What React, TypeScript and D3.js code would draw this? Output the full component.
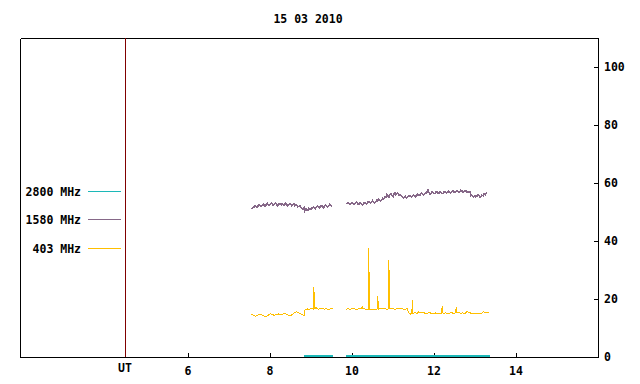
import React from "react";
import * as d3 from "d3";

const title = "15 03 2010";
const xTicks = [6, 8, 10, 12, 14];
const yTicks = [0, 20, 40, 60, 80, 100];
const utHour = 4.46;

const legendLabels = ["2800 MHz", "1580 MHz", "403 MHz"];
const seriesColors = ["#1cb8b8", "#866888", "#ffbf00"];

// 2800 MHz (null = gap)
const h2800: (number | null)[] = [8.84, 9.53, null, 9.85, 13.36];
const v2800: (number | null)[] = [0.4, 0.4, null, 0.4, 0.4];

// 1580 MHz
const h1580: (number | null)[] = [
  7.55, 7.58, 7.6, 7.63, 7.65, 7.68, 7.7, 7.73, 7.75, 7.78, 7.8, 7.83, 7.85, 7.88, 7.9, 7.93, 7.95, 7.98, 8.0, 8.03,
  8.05, 8.08, 8.1, 8.13, 8.15, 8.18, 8.2, 8.23, 8.25, 8.28, 8.3, 8.33, 8.35, 8.38, 8.4, 8.43, 8.45, 8.48, 8.5, 8.53,
  8.55, 8.58, 8.6, 8.63, 8.65, 8.68, 8.7, 8.73, 8.75, 8.78, 8.8, 8.83, 8.85, 8.88, 8.9, 8.92, 8.95, 8.97, 9.0, 9.02,
  9.05, 9.07, 9.1, 9.12, 9.15, 9.17, 9.2, 9.22, 9.25, 9.27, 9.3, 9.32, 9.35, 9.37, 9.4, 9.42, 9.45, 9.47, 9.51, null,
  9.87, 9.9, 9.92, 9.95, 9.97, 10.0, 10.02, 10.05, 10.07, 10.1, 10.12, 10.15, 10.17, 10.2, 10.22, 10.25, 10.27, 10.3,
  10.32, 10.35, 10.37, 10.4, 10.42, 10.45, 10.47, 10.5, 10.52, 10.55, 10.57, 10.6, 10.62, 10.65, 10.67, 10.7, 10.72,
  10.75, 10.77, 10.8, 10.82, 10.85, 10.87, 10.9, 10.92, 10.95, 10.97, 11.0, 11.02, 11.05, 11.07, 11.1, 11.12, 11.15,
  11.17, 11.2, 11.22, 11.25, 11.27, 11.3, 11.32, 11.35, 11.37, 11.4, 11.42, 11.45, 11.47, 11.5, 11.52, 11.55, 11.57,
  11.6, 11.62, 11.65, 11.67, 11.7, 11.72, 11.75, 11.77, 11.8, 11.82, 11.85, 11.88, 11.9, 11.93, 11.95, 11.98, 12.0,
  12.03, 12.05, 12.08, 12.1, 12.13, 12.15, 12.18, 12.2, 12.23, 12.25, 12.28, 12.3, 12.33, 12.35, 12.38, 12.4, 12.43,
  12.45, 12.48, 12.5, 12.53, 12.55, 12.58, 12.6, 12.63, 12.65, 12.68, 12.7, 12.73, 12.75, 12.78, 12.8, 12.83, 12.85,
  12.88, 12.9, 12.92, 12.95, 12.97, 13.0, 13.02, 13.05, 13.07, 13.1, 13.12, 13.15, 13.17, 13.2, 13.22, 13.25, 13.27,
  13.3, 13.32, 13.35,
];
const v1580: (number | null)[] = [
  51.0, 51.5, 51.6, 52.1, 51.9, 51.6, 52.0, 52.6, 52.3, 51.8, 52.1, 52.7, 52.5, 52.0, 52.4, 53.0, 52.7, 52.2, 52.5, 53.1,
  52.9, 52.3, 52.6, 53.0, 52.8, 52.2, 52.4, 52.9, 52.7, 52.3, 52.9, 52.4, 52.5, 53.0, 52.6, 52.1, 52.3, 52.8, 52.7, 52.2,
  52.4, 52.9, 52.1, 52.6, 52.5, 51.8, 51.9, 52.3, 51.7, 51.2, 51.0, 51.5, 50.4, 51.2, 50.7, 50.6, 51.3, 51.1, 50.8, 51.3,
  51.7, 51.6, 51.1, 51.5, 52.0, 51.8, 51.4, 51.7, 52.2, 52.0, 51.5, 51.8, 52.4, 52.2, 51.7, 51.9, 52.6, 52.4, 52.1, null,
  52.7, 53.2, 53.0, 52.5, 52.8, 53.3, 53.1, 52.6, 52.9, 53.4, 53.2, 52.7, 52.8, 53.3, 53.0, 52.5, 52.7, 53.3,
  53.2, 52.8, 53.1, 53.6, 53.4, 53.0, 53.3, 53.9, 53.6, 53.2, 53.4, 54.0, 53.8, 54.5, 54.2, 53.9, 54.0,
  54.8, 54.6, 55.1, 55.0, 56.0, 55.6, 55.2, 55.9, 56.4, 55.7, 55.3, 56.2, 56.6, 55.9, 56.5, 56.3, 55.8,
  56.0, 55.5, 55.4, 54.8, 55.0, 55.4, 54.9, 55.2, 55.3, 55.6, 55.5, 55.1, 55.4, 55.8, 55.7, 55.3, 55.6,
  56.1, 56.0, 55.7, 56.1, 56.5, 56.3, 55.9, 56.2, 56.6, 56.5, 57.6, 56.6, 56.2, 56.4, 56.9, 56.7, 56.3,
  56.5, 57.0, 56.8, 56.4, 56.6, 57.1, 56.7, 56.4, 56.5, 57.0, 56.9, 56.5, 56.7, 57.2, 57.0, 56.6, 56.8,
  57.3, 57.1, 56.7, 56.9, 57.4, 57.2, 56.8, 57.0, 57.5, 57.3, 56.9, 57.0, 57.4, 57.2, 56.9, 57.1,
  56.8, 56.9, 55.6, 55.9, 55.4, 55.2, 55.7, 55.3, 55.5, 55.9, 55.6, 55.2, 55.4, 55.8, 55.6, 56.2,
  56.0, 56.5, 56.8,
];

// 403 MHz
const h403: (number | null)[] = [
  7.55, 7.6, 7.65, 7.7, 7.75, 7.8, 7.85, 7.9, 7.95, 8.0, 8.05, 8.1, 8.15, 8.2, 8.25, 8.3, 8.35, 8.4, 8.45, 8.5,
  8.55, 8.6, 8.65, 8.7, 8.75, 8.8, 8.84, 8.85, 8.9, 8.95, 9.0, 9.05, 9.07, 9.08, 9.12, 9.17, 9.22, 9.27, 9.32,
  9.37, 9.42, 9.47, 9.53, null,
  9.85, 9.88, 9.95, 10.02, 10.1, 10.18, 10.23, 10.25, 10.27, 10.35, 10.4, 10.41, 10.42, 10.48, 10.55, 10.62,
  10.63, 10.64, 10.7, 10.78, 10.85, 10.89, 10.9, 10.91, 10.98, 11.05, 11.12, 11.2, 11.28, 11.35, 11.38, 11.42,
  11.46, 11.47, 11.48, 11.53, 11.58, 11.63, 11.68, 11.73, 11.78, 11.83, 11.88, 11.93, 11.98, 12.03, 12.08, 12.13,
  12.18, 12.2, 12.22, 12.28, 12.33, 12.38, 12.43, 12.48, 12.53, 12.54, 12.55, 12.6, 12.65, 12.7, 12.75, 12.8,
  12.85, 12.9, 12.95, 13.0, 13.05, 13.1, 13.15, 13.2, 13.25, 13.3, 13.35,
];
const v403: (number | null)[] = [
  14.8, 14.3, 14.1, 14.4, 14.8, 14.5, 14.1, 13.9, 14.3, 14.9, 14.7, 14.4, 14.6, 14.9, 14.5, 14.7, 15.1, 14.8, 14.4, 14.3,
  14.7, 15.3, 15.6, 15.2, 14.8, 14.5, 14.2, 16.2, 16.6, 16.4, 16.7, 16.5, 24.2, 16.6, 17.0, 16.5, 16.6, 16.8, 16.5,
  16.7, 16.4, 16.6, 16.6, null,
  16.2, 16.7, 16.5, 16.6, 16.5, 16.6, 16.6, 17.7, 16.6, 16.5, 16.4, 37.7, 16.2, 16.5, 16.4, 16.6,
  21.1, 16.5, 16.6, 16.7, 16.5, 16.6, 33.4, 16.6, 16.7, 16.5, 16.6, 16.6, 16.5, 16.6, 15.2, 14.8,
  15.0, 19.7, 14.9, 15.3, 15.0, 15.6, 15.2, 15.4, 15.1, 15.0, 15.3, 15.1, 14.9, 15.2, 15.0, 15.1,
  15.0, 17.7, 15.1, 15.2, 15.0, 15.1, 15.3, 15.0, 15.2, 17.2, 15.2, 15.3, 15.1, 15.2, 15.0, 15.6,
  15.4, 15.1, 14.9, 15.2, 15.0, 15.1, 15.0, 15.6, 15.3, 15.4, 15.2,
];

const W = 640;
const H = 384;
const plotLeft = 20;
const plotRight = 598;
const plotTop = 38;
const plotBottom = 357;
const FONT = "'DejaVu Sans Mono', monospace";
const FS = 11.5;

export default function App() {
  const x = d3.scaleLinear().domain([1.9, 16]).range([plotLeft, plotRight]);
  const y = d3.scaleLinear().domain([0, 110]).range([plotBottom, plotTop]);

  const mk = (hs: (number | null)[], vs: (number | null)[]) => {
    const pts = hs.map((h, i) => [h, vs[i]] as [number | null, number | null]);
    return d3
      .line<[number | null, number | null]>()
      .defined((d) => d[0] != null && d[1] != null)
      .x((d) => x(d[0] as number))
      .y((d) => y(d[1] as number))(pts) as string;
  };

  const series = [
    { d: mk(h2800, v2800), color: seriesColors[0], w: 2 },
    { d: mk(h1580, v1580), color: seriesColors[1], w: 1.6 },
    { d: mk(h403, v403), color: seriesColors[2], w: 1 },
  ];

  const legendY = [191.5, 219.5, 248.5];

  return (
    <svg
      width={W}
      height={H}
      style={{ position: "fixed", left: 0, top: 0, background: "#fff" }}
      fontFamily={FONT}
      fontWeight="bold"
    >
      <rect x={0} y={0} width={W} height={H} fill="#fff" />
      <text x={308} y={23} textAnchor="middle" fontSize={FS} fill="#000">
        {title}
      </text>

      {/* frame */}
      <g shapeRendering="crispEdges" stroke="#000" strokeWidth={1} fill="none">
        <line x1={plotLeft + 0.5} y1={plotTop + 0.5} x2={plotRight + 0.5} y2={plotTop + 0.5} />
        <line x1={plotLeft + 0.5} y1={plotTop + 0.5} x2={plotLeft + 0.5} y2={plotBottom + 0.5} />
        <line x1={plotRight + 0.5} y1={plotTop + 0.5} x2={plotRight + 0.5} y2={plotBottom + 0.5} />
        <line x1={plotLeft + 0.5} y1={plotBottom + 0.5} x2={plotRight + 0.5} y2={plotBottom + 0.5} />
      </g>

      {/* UT line */}
      <line
        x1={Math.round(x(utHour)) + 0.5}
        x2={Math.round(x(utHour)) + 0.5}
        y1={plotTop}
        y2={plotBottom}
        stroke="#800000"
        strokeWidth={1}
        shapeRendering="crispEdges"
      />
      <text x={x(utHour)} y={372} textAnchor="middle" fontSize={FS} fill="#000">
        UT
      </text>

      {/* x ticks */}
      {xTicks.map((t) => (
        <g key={"x" + t}>
          <line
            x1={Math.round(x(t)) + 0.5}
            x2={Math.round(x(t)) + 0.5}
            y1={plotBottom}
            y2={plotBottom - 4}
            stroke="#000"
            shapeRendering="crispEdges"
          />
          <text x={x(t)} y={375} textAnchor="middle" fontSize={FS} fill="#000">
            {t}
          </text>
        </g>
      ))}

      {/* y ticks right */}
      {yTicks.map((t) => (
        <g key={"y" + t}>
          <line
            x1={plotRight - 4}
            x2={plotRight}
            y1={Math.round(y(t)) + 0.5}
            y2={Math.round(y(t)) + 0.5}
            stroke="#000"
            shapeRendering="crispEdges"
          />
          <text x={604} y={y(t) + 4} textAnchor="start" fontSize={FS} fill="#000">
            {t}
          </text>
        </g>
      ))}

      {/* legend */}
      {legendLabels.map((lab, i) => (
        <g key={lab}>
          <text x={81} y={legendY[i] + 4} textAnchor="end" fontSize={FS} fill="#000">
            {lab}
          </text>
          <line
            x1={88}
            x2={121}
            y1={legendY[i]}
            y2={legendY[i]}
            stroke={seriesColors[i]}
            strokeWidth={1}
            shapeRendering="crispEdges"
          />
        </g>
      ))}

      {/* data */}
      {series.map((s, i) => (
        <path key={i} d={s.d} fill="none" stroke={s.color} strokeWidth={s.w} shapeRendering="crispEdges" />
      ))}
    </svg>
  );
}
